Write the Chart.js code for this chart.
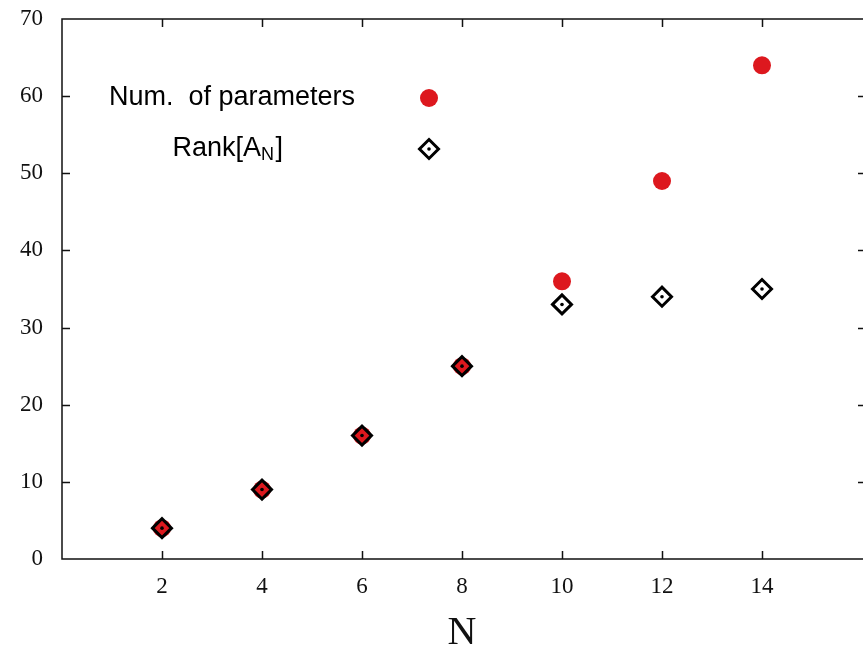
<!DOCTYPE html>
<html>
<head>
<meta charset="utf-8">
<script src="https://cdn.jsdelivr.net/npm/chart.js@4"></script>
<style>
  body { margin: 0; background: #fff; }
  #wrap { width: 863px; height: 649px; }
</style>
</head>
<body>
<div id="wrap"><canvas id="chart" width="863" height="649"></canvas></div>
<script>
// DATA
const nValues = [2, 4, 6, 8, 10, 12, 14];
const numParams = [4, 9, 16, 25, 36, 49, 64];
const rankAN = [4, 9, 16, 25, 33, 34, 35];
const xTicks = [2, 4, 6, 8, 10, 12, 14];
const yTicks = [0, 10, 20, 30, 40, 50, 60, 70];

const RED = "rgb(221, 24, 30)";
const INK = "#000";

const toPoints = (xs, ys) => xs.map((x, i) => ({ x: x, y: ys[i] }));

// frame, inward ticks and the in-plot key
const framePlugin = {
  id: "frame",
  afterDraw(chart) {
    const ctx = chart.ctx;
    const a = chart.chartArea;
    const xs = chart.scales.x;
    const ys = chart.scales.y;
    const tl = 8;
    ctx.save();
    ctx.strokeStyle = "#111";
    ctx.lineWidth = 1.5;
    ctx.beginPath();
    ctx.moveTo(a.right + 2, a.top);
    ctx.lineTo(a.left, a.top);
    ctx.lineTo(a.left, a.bottom);
    ctx.lineTo(a.right + 2, a.bottom);
    ctx.stroke();

    ctx.lineWidth = 1.5;
    ctx.beginPath();
    xTicks.forEach(v => {
      const px = Math.round(xs.getPixelForValue(v)) + 0.5;
      ctx.moveTo(px, a.bottom);
      ctx.lineTo(px, a.bottom - tl);
      ctx.moveTo(px, a.top);
      ctx.lineTo(px, a.top + tl);
    });
    yTicks.forEach(v => {
      if (v === 0 || v === 70) return;
      const py = Math.round(ys.getPixelForValue(v)) + 0.5;
      ctx.moveTo(a.left, py);
      ctx.lineTo(a.left + tl, py);
      ctx.moveTo(a.right + 2, py);
      ctx.lineTo(a.right - 4, py);
    });
    ctx.stroke();

    // key
    const kx = a.left + 367;
    const k1 = a.top + 79;
    const k2 = a.top + 130;
    ctx.fillStyle = INK;
    ctx.textBaseline = "middle";
    ctx.textAlign = "right";
    ctx.font = "27px 'Liberation Sans', Arial, sans-serif";
    ctx.fillText("Num.  of parameters", a.left + 293, k1);

    ctx.font = "18px 'Liberation Sans', Arial, sans-serif";
    const subW = ctx.measureText("N").width;
    ctx.fillText("N", a.left + 212, k2 + 6);
    ctx.font = "27px 'Liberation Sans', Arial, sans-serif";
    ctx.fillText("]", a.left + 221, k2);
    ctx.fillText("Rank[A", a.left + 212 - subW, k2);

    ctx.fillStyle = RED;
    ctx.beginPath();
    ctx.arc(kx, k1, 9, 0, Math.PI * 2);
    ctx.fill();

    ctx.strokeStyle = INK;
    ctx.lineWidth = 3;
    ctx.beginPath();
    ctx.moveTo(kx, k2 - 9.5);
    ctx.lineTo(kx + 9.5, k2);
    ctx.lineTo(kx, k2 + 9.5);
    ctx.lineTo(kx - 9.5, k2);
    ctx.closePath();
    ctx.stroke();
    ctx.fillStyle = INK;
    ctx.beginPath();
    ctx.arc(kx, k2, 1.8, 0, Math.PI * 2);
    ctx.fill();
    ctx.restore();
  }
};

const config = {
  type: "scatter",
  data: {
    datasets: [
      {
        label: "Num. of parameters",
        data: toPoints(nValues, numParams),
        pointStyle: "circle",
        pointRadius: 9,
        pointHoverRadius: 9,
        backgroundColor: RED,
        borderWidth: 0,
        order: 3,
      },
      {
        label: "Rank[A_N]",
        data: toPoints(nValues, rankAN),
        pointStyle: "rectRot",
        pointRadius: 9.5,
        pointHoverRadius: 9.5,
        backgroundColor: "rgba(0,0,0,0)",
        borderColor: INK,
        borderWidth: 3,
        order: 2,
      },
      {
        label: "centre",
        data: toPoints(nValues, rankAN),
        pointStyle: "circle",
        pointRadius: 1.8,
        pointHoverRadius: 1.8,
        backgroundColor: INK,
        borderWidth: 0,
        order: 1,
      },
    ],
  },
  options: {
    responsive: false,
    animation: false,
    events: [],
    layout: { autoPadding: false, padding: { top: 19, right: 1, left: 0, bottom: 0 } },
    scales: {
      x: {
        type: "linear",
        min: 0,
        max: 16,
        afterBuildTicks: s => { s.ticks = xTicks.map(v => ({ value: v })); },
        afterFit: s => { s.height = 90; s.paddingLeft = 0; s.paddingRight = 0; },
        grid: { display: false, drawTicks: false },
        border: { display: false },
        ticks: {
          padding: 14,
          color: "#111",
          font: { family: "'Liberation Serif', 'DejaVu Serif', serif", size: 23 },
        },
        title: {
          display: true,
          text: "N",
          color: "#111",
          padding: { top: 0, bottom: -8 },
          font: { family: "'Liberation Serif', 'DejaVu Serif', serif", size: 40 },
        },
      },
      y: {
        type: "linear",
        min: 0,
        max: 70,
        afterBuildTicks: s => { s.ticks = yTicks.map(v => ({ value: v })); },
        afterFit: s => { s.width = 62; s.paddingTop = 0; s.paddingBottom = 0; },
        grid: { display: false, drawTicks: false },
        border: { display: false },
        ticks: {
          padding: 19,
          color: "#111",
          font: { family: "'Liberation Serif', 'DejaVu Serif', serif", size: 23 },
        },
      },
    },
    plugins: {
      legend: { display: false },
      tooltip: { enabled: false },
    },
  },
  plugins: [framePlugin],
};

const chart = new Chart(document.getElementById("chart"), config);
</script>
</body>
</html>
